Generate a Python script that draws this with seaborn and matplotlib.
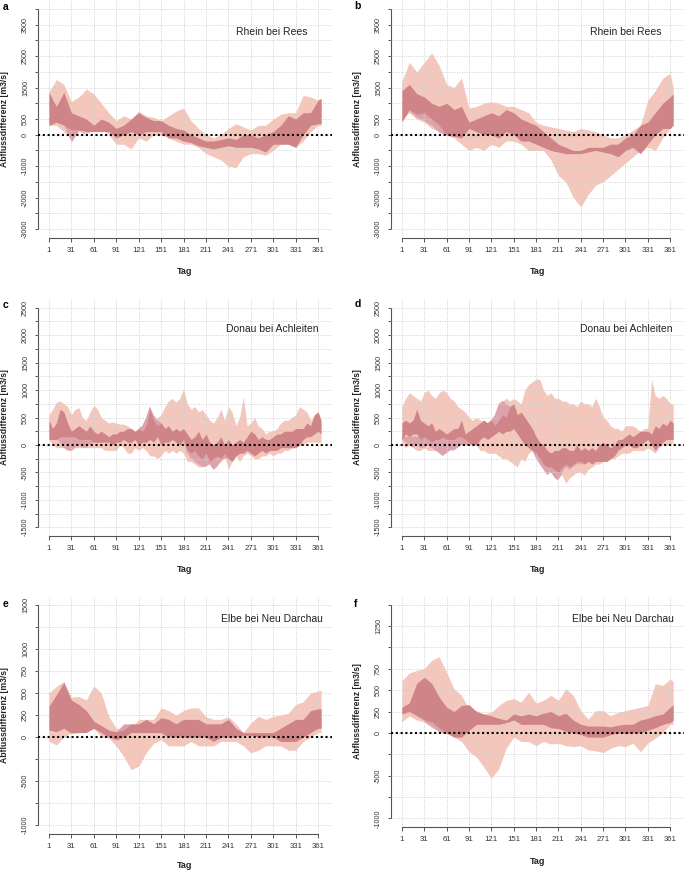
import numpy as np
import matplotlib
matplotlib.use("Agg")
import matplotlib.pyplot as plt
import seaborn as sns

N = np.nan

# ---------------- data ----------------
DAYS10 = list(range(1, 362, 10)) + [365]
DAYS5 = list(range(1, 362, 5)) + [365]
XTICKS = [1, 31, 61, 91, 121, 151, 181, 211, 241, 271, 301, 331, 361]

TITLES = ["Rhein bei Rees", "Rhein bei Rees", "Donau bei Achleiten",
          "Donau bei Achleiten", "Elbe bei Neu Darchau", "Elbe bei Neu Darchau"]
LETTERS = ["a", "b", "c", "d", "e", "f"]

# Panel a
A_LIGHT_HI = [1350, 1750, 1600, 1050, 1200, 1450, 1300, 1000, 700, 450,
              600, 500, 750, 600, 550, 450, 600, 750, 850, 450,
              200, 0, -100, 0, 200, 350, 250, 150, 300, 300,
              500, 650, 700, 700, 1250, 1200, 1100, 1150]
A_LIGHT_LO = [300, 300, 100, -100, 100, 0, 200, 200, 0, -300,
              -300, -450, -100, -200, 0, 0, -100, -200, -300, -300,
              -400, -600, -700, -800, -1000, -1050, -700, -600, -600, -650,
              -500, -300, -300, -400, -200, 100, 300, 300]
A_DARK_HI = [1350, 900, 1350, 700, 600, 500, 300, 500, 400, 200,
             300, 500, 700, 550, 450, 450, 300, 200, 150, 0,
             -100, -200, -200, -150, -100, -150, 0, 0, -100, 0,
             100, 300, 600, 500, 700, 700, 1100, 1150]
A_DARK_LO = [300, 400, 300, 150, 150, 100, 100, 100, 100, -100,
             0, 100, 0, 100, 100, 100, -100, -100, -200, -250,
             -350, -400, -450, -400, -350, -400, -400, -400, -450, -550,
             -300, -300, -300, -400, 0, 300, 350, 350]
A_MAUVE_HI = [N, N, 300, 150, 150] + [N] * 33
A_MAUVE_LO = [N, N, 300, -230, 150] + [N] * 33

# Panel b
B_LIGHT_HI = [1700, 2300, 2000, 2300, 2600, 2200, 1600, 1500, 1800, 850,
              900, 1000, 1050, 1000, 900, 900, 800, 700, 400, 300,
              250, 200, 150, 100, 200, 150, 100, 0, -100, -100,
              0, 150, 300, 1100, 1400, 1800, 1950, 1500]
B_LIGHT_LO = [500, 700, 500, 400, 200, 100, 0, -100, -300, -500,
              -400, -500, -300, -400, -200, -200, -300, -500, -500, -500,
              -800, -1300, -1500, -2000, -2300, -1900, -1600, -1500, -1300, -1100,
              -900, -700, -500, -400, -500, -100, 200, 300]
B_DARK_HI = [1400, 1600, 1300, 1200, 1000, 900, 1000, 800, 900, 400,
             500, 600, 700, 600, 800, 700, 500, 400, 300, 100,
             -100, -300, -400, -500, -500, -400, -400, -400, -300, -300,
             -100, 0, 300, 400, 700, 1000, 1200, 1300]
B_DARK_LO = [400, 800, 650, 700, 500, 300, 0, -50, -100, 200,
             100, 0, 0, -100, 100, 0, -200, -200, -300, -400,
             -500, -550, -600, -600, -600, -550, -500, -550, -600, -700,
             -500, -400, -600, -300, 0, 200, 200, 300]
B_MAUVE_HI = [N, 800, 750, 750, 550, 300, 50, -20] + [N] * 30
B_MAUVE_LO = [N, 750, 550, 450, 300, 80, -20, -50] + [N] * 30

# Panel c
C_LIGHT_HI = [550, 650, 780, 800, 750, 700, 550, 650, 680, 500,
              450, 600, 720, 650, 500, 450, 400, 420, 400, 380,
              380, 350, 300, 250, 150, 300, 350, 400, 450, 500,
              550, 700, 800, 850, 780, 850, 1020, 750, 650, 700,
              600, 650, 550, 450, 400, 500, 650, 450, 700, 600,
              350, 500, 880, 350, 400, 500, 350, 300, 200, 250,
              250, 300, 400, 450, 450, 500, 550, 700, 650, 600,
              450, 550, 600, 200]
C_LIGHT_LO = [100, 0, -50, -50, -50, -100, -100, -50, -50, -50,
              -50, -50, -50, -50, -50, -100, -100, -100, -100, 0,
              -50, -150, -150, -50, -100, -50, -100, -200, -200, -250,
              -200, -100, -150, -100, -150, -100, -150, -300, -300, -350,
              -400, -400, -350, -350, -450, -350, -300, -200, -450, -300,
              -200, -300, -200, -150, -200, -250, -250, -200, -200, -150,
              -200, -150, -150, -100, -100, -50, -50, 0, 0, 50,
              50, 50, 50, 50]
C_DARK_HI = [450, 300, 400, 650, 600, 400, 250, 300, 350, 300,
             250, 350, 250, 200, 250, 200, 150, 200, 200, 250,
             250, 300, 300, 250, 300, 250, 350, 650, 450, 350,
             400, 300, 350, 250, 300, 250, 300, 200, 100, 150,
             250, 100, 200, 50, 0, 50, 150, 0, 100, 0,
             50, 100, 50, 150, 250, 200, 100, 150, 100, 100,
             150, 200, 200, 250, 250, 250, 300, 300, 300, 400,
             350, 550, 600, 450]
C_DARK_LO = [100, 100, 100, 150, 150, 150, 150, 150, 100, 100,
             100, 100, 50, 50, 50, 50, 50, 0, 50, 50,
             100, 50, 50, 100, 0, 50, 50, 100, 50, 150,
             0, 50, 50, 100, 50, 0, 100, -100, -150, -100,
             -200, -250, -150, -300, -250, -200, -250, -150, -250, -300,
             -200, -150, -150, -100, -150, -200, -150, -100, -150, -100,
             -100, -100, -50, -50, -50, -50, -50, 0, 100, 150,
             150, 200, 250, 200]
C_MAUVE_HI = ([N, N, 150, 200, 200, 200, 200, 200, 150, 150,
               150, 150, 100, N, N, N, N, N, N, N,
               N, N, N, N, 300, 350, 500, 700, 550, 450,
               400, 300, N, N, N, N, 100, 0, 0, 0,
               0, 0, 0, 0, 0, 0, 0, 0, 0, 0,
               0] + [N] * 23)
C_MAUVE_LO = ([N, N, 100, 50, -50, -100, -100, -50, 0, -50,
               -50, 0, 50, N, N, N, N, N, N, N,
               N, N, N, N, 100, 100, 150, 150, 150, 150,
               150, 150, N, N, N, N, 50, -150, -250, -300,
               -350, -400, -400, -350, -450, -400, -300, -250, -250, -300,
               -200] + [N] * 23)

# Panel d
D_LIGHT_HI = [700, 850, 950, 900, 850, 800, 950, 1000, 900, 850,
              950, 1000, 950, 850, 800, 700, 650, 600, 500, 450,
              500, 450, 450, 400, 450, 500, 600, 800, 850, 800,
              850, 800, 750, 1000, 1100, 1150, 1200, 1200, 1000, 900,
              950, 850, 850, 800, 800, 750, 750, 700, 800, 750,
              750, 700, 850, 700, 500, 450, 350, 300, 300, 250,
              350, 350, 350, 300, 250, 300, 300, 1200, 900, 850,
              900, 850, 750, 750]
D_LIGHT_LO = [0, -50, 0, -50, -100, -100, -50, -100, -100, -100,
              -100, -50, 0, 0, 0, 0, 0, 0, 0, 0,
              0, -100, -100, -150, -150, -150, -200, -250, -250, -300,
              -350, -400, -250, -300, -150, -100, -200, -200, -300, -350,
              -450, -500, -600, -550, -700, -600, -550, -500, -500, -550,
              -450, -400, -350, -350, -300, -300, -250, -250, -200, -150,
              -150, -150, -100, -100, -100, -100, -50, -100, -150, -50,
              0, 0, 0, 50]
D_DARK_HI = [400, 450, 400, 450, 650, 450, 400, 350, 400, 250,
             300, 250, 200, 250, 300, 300, 450, 200, 250, 300,
             350, 400, 450, 400, 450, 350, 450, 550, 500, 700,
             750, 550, 600, 500, 400, 300, 150, 50, 0, -100,
             -150, -100, -100, -50, -50, -100, -100, 0, -100, -50,
             -100, -50, -100, 0, 50, 0, -50, 0, 100, 100,
             150, 200, 150, 200, 250, 250, 250, 200, 350, 300,
             400, 350, 450, 400]
D_DARK_LO = [100, 200, 150, 200, 200, 100, 150, 100, 50, 100,
             100, 150, 100, 100, 100, 150, 150, 100, 50, 0,
             0, 100, 150, 100, 150, 200, 250, 200, 250, 250,
             300, 200, 100, 0, -50, -100, -150, -250, -350, -400,
             -400, -450, -500, -400, -350, -400, -350, -300, -300, -350,
             -300, -350, -300, -300, -300, -300, -250, -200, -100, -50,
             0, 0, -50, -50, 0, 50, 100, 0, -100, 0,
             50, 100, 100, 100]
D_MAUVE_HI = ([150, 150, 150, 150, 150, 150, 150, 150, 150, 150,
               150, 150, 150, 150, 150, 150, 150, 150, 150, 50,
               0, N, N, 400, 450, 550, 750, 800, 750, 700,
               650, N, N, N, 0, -50, -100, -150, -150, -150,
               -150, -150, -150, -150, -150, -150, -150, -150, -150, -150,
               -150] + [N] * 23)
D_MAUVE_LO = ([100, 50, 0, -50, 0, -50, -50, 0, -50, -100,
               -150, -200, -150, -100, -100, -50, 0, 0, 0, 0,
               0, N, N, 100, 150, 200, 250, 200, 250, 250,
               300, N, N, N, -50, -100, -250, -350, -450, -550,
               -500, -600, -650, -500, -400, -450, -400, -350, -350, -350,
               -300] + [N] * 23)

# Panel e
E_LIGHT_HI = [500, 575, 630, 450, 460, 420, 580, 500, 235, 100,
              100, 100, 200, 200, 200, 330, 300, 250, 300, 330,
              330, 230, 200, 200, 230, 150, 50, 160, 235, 200,
              235, 250, 270, 370, 400, 500, 520, 530]
E_LIGHT_LO = [-50, -90, 0, 50, 50, 100, 100, 0, -10, -100,
              -220, -370, -330, -180, -70, -30, -100, -100, -100, -50,
              -100, -100, -100, -50, -50, -50, -100, -180, -150, -100,
              -100, -100, -150, -150, -50, 0, 50, 50]
E_DARK_HI = [350, 480, 620, 420, 370, 300, 180, 130, 80, 60,
             80, 150, 150, 200, 150, 220, 200, 150, 200, 200,
             200, 150, 150, 150, 200, 100, 50, 50, 50, 50,
             50, 100, 150, 200, 200, 300, 320, 320]
E_DARK_LO = [80, 60, 100, 45, 50, 50, 100, 50, 0, -30,
             0, 50, 50, 50, 50, 50, 0, 0, 0, 0,
             0, 0, -50, 0, 0, 0, 20, 20, 0, 0,
             0, -50, -50, -50, 0, 50, 100, 100]
E_MAUVE_HI = [N] * 9 + [60, 150, 150] + [N] * 26
E_MAUVE_LO = [N] * 9 + [0, 0, 80] + [N] * 26

# Panel f
F_LIGHT_HI = [610, 700, 730, 750, 850, 890, 710, 515, 440, 280,
              260, 220, 240, 320, 380, 400, 360, 475, 350, 380,
              440, 380, 515, 440, 260, 160, 260, 260, 200, 240,
              260, 280, 300, 320, 575, 555, 630, 600]
F_LIGHT_LO = [130, 200, 150, 130, 60, 30, 0, -50, -100, -220,
              -280, -400, -530, -420, -180, -50, -100, -100, -150, -100,
              -130, -120, -150, -160, -150, -200, -210, -230, -180, -150,
              -160, -120, -220, -120, -60, 0, 100, 100]
F_DARK_HI = [300, 350, 580, 650, 580, 420, 300, 250, 320, 330,
             250, 220, 200, 170, 150, 220, 200, 220, 200, 230,
             250, 200, 230, 150, 100, 80, 80, 80, 70, 90,
             100, 100, 150, 170, 200, 220, 300, 330]
F_DARK_LO = [220, 250, 200, 150, 130, 60, 0, -50, -50, 30,
             100, 100, 100, 100, 120, 150, 100, 100, 100, 100,
             60, 50, 20, 0, -20, -50, -50, -50, -20, 0,
             -10, 0, 0, 30, 60, 100, 120, 150]
F_MAUVE_HI = [N, N, N, 150, 150, 150, 50] + [N] * 31
F_MAUVE_LO = [N, N, N, 130, 80, 10, -10] + [N] * 31

# y ticks / labels per panel
YT_AB = list(range(-3000, 4001, 500))
YL_AB = ["-3000", "", "-2000", "", "-1000", "", "0", "500", "", "1500", "",
         "2500", "", "3500", ""]
YT_CD = list(range(-1500, 2501, 250))
YL_CD = ["-1500", "", "-1000", "", "-500", "", "0", "", "500", "", "1000", "",
         "1500", "", "2000", "", "2500"]
YT_EF = list(range(-1000, 1501, 250))
YL_E = ["-1000", "", "-500", "", "0", "250", "500", "750", "1000", "", "1500"]
YL_F = ["-1000", "", "-500", "", "0", "250", "500", "750", "", "1250", ""]

PANELS = [
    (DAYS10, A_LIGHT_LO, A_LIGHT_HI, A_MAUVE_LO, A_MAUVE_HI, A_DARK_LO, A_DARK_HI, YT_AB, YL_AB),
    (DAYS10, B_LIGHT_LO, B_LIGHT_HI, B_MAUVE_LO, B_MAUVE_HI, B_DARK_LO, B_DARK_HI, YT_AB, YL_AB),
    (DAYS5, C_LIGHT_LO, C_LIGHT_HI, C_MAUVE_LO, C_MAUVE_HI, C_DARK_LO, C_DARK_HI, YT_CD, YL_CD),
    (DAYS5, D_LIGHT_LO, D_LIGHT_HI, D_MAUVE_LO, D_MAUVE_HI, D_DARK_LO, D_DARK_HI, YT_CD, YL_CD),
    (DAYS10, E_LIGHT_LO, E_LIGHT_HI, E_MAUVE_LO, E_MAUVE_HI, E_DARK_LO, E_DARK_HI, YT_EF, YL_E),
    (DAYS10, F_LIGHT_LO, F_LIGHT_HI, F_MAUVE_LO, F_MAUVE_HI, F_DARK_LO, F_DARK_HI, YT_EF, YL_F),
]

# ---------------- style ----------------
sns.set_theme(style="white")
plt.rcParams["font.family"] = ["Liberation Sans", "DejaVu Sans"]

C_LIGHT = "#F3C7BC"
C_MAUVE = "#DCA3AC"
C_DARK = "#CF8487"
C_GRID = "#CFCFCF"
C_AXIS = "#555555"
C_TEXT = "#333333"

W, H = 685, 874
fig = plt.figure(figsize=(W / 100, H / 100), dpi=100)

# layout in pixels: (left, right, top, bottom)
BOXES = [(38, 332, 0, 238), (391, 684, 0, 238),
         (38, 332, 299, 536), (391, 684, 299, 536),
         (38, 332, 596, 834), (391, 684, 596, 827)]
TITLE_POS = [(308, 32), (661, 32), (318, 329), (672, 329), (323, 619), (674, 619)]
LETTER_POS = [(3, 7), (354, 6), (3, 305), (355, 304), (3, 604), (354, 604)]
TAG_Y = [272, 272, 569, 569, 866, 861]
YLAB_X = [5, 358, 5, 358, 5, 358]

for i, (days, llo, lhi, mlo, mhi, dlo, dhi, yt, yl) in enumerate(PANELS):
    l, r, t, b = BOXES[i]
    ax = fig.add_axes([l / W, 1 - b / H, (r - l) / W, (b - t) / H])
    days = np.asarray(days, float)
    ax.fill_between(days, np.asarray(llo, float), np.asarray(lhi, float),
                    color=C_LIGHT, lw=0, zorder=1)
    ax.fill_between(days, np.asarray(mlo, float), np.asarray(mhi, float),
                    color=C_MAUVE, lw=0, zorder=2)
    ax.fill_between(days, np.asarray(dlo, float), np.asarray(dhi, float),
                    color=C_DARK, lw=0, zorder=3)

    ymin, ymax = yt[0], yt[-1]
    pad = 0.04 * (ymax - ymin)
    ax.set_ylim(ymin - pad, ymax + pad)
    ax.set_xlim(1 - 0.04 * 364, 365 + 0.04 * 364)

    ax.set_xticks(XTICKS)
    ax.set_xticklabels([str(v) for v in XTICKS])
    ax.set_yticks(yt)
    ax.set_yticklabels(yl)

    ax.grid(True, linestyle=(0, (1, 1.5)), color=C_GRID, lw=0.7, zorder=4)
    ax.set_axisbelow(False)
    ax.axhline(0, color="black", lw=1.5, linestyle=(0, (1, 1.3)), zorder=6)

    sns.despine(ax=ax)
    ax.spines["left"].set_bounds(ymin, ymax)
    ax.spines["bottom"].set_bounds(1, 361)
    for s in ("left", "bottom"):
        ax.spines[s].set_color(C_AXIS)
        ax.spines[s].set_linewidth(0.8)

    ax.tick_params(axis="x", direction="out", length=3.0, width=0.7,
                   color=C_AXIS, labelsize=5.6, labelcolor=C_TEXT, pad=3.5,
                   bottom=True)
    ax.tick_params(axis="y", direction="out", length=2.4, width=0.7,
                   color=C_AXIS, labelsize=5.2, labelcolor=C_TEXT, pad=4,
                   left=True)
    for lab in ax.get_yticklabels():
        lab.set_rotation(90)
        lab.set_va("center")

    ax.set_xlabel("Tag", fontsize=6.5, fontweight="bold", color="#222222", va="center")
    ax.xaxis.set_label_coords(0.5, (b - TAG_Y[i]) / (b - t))
    ax.set_ylabel("Abflussdifferenz [m3/s]", fontsize=6.2, fontweight="bold",
                  color="#222222", va="center")
    ax.yaxis.set_label_coords((YLAB_X[i] - l) / (r - l), 0.5)

    tx, ty = TITLE_POS[i]
    ax.text((tx - l) / (r - l), 1 - (ty - t) / (b - t), TITLES[i],
            transform=ax.transAxes, ha="right", va="center",
            fontsize=7.5, color="#222222", zorder=7)

    lx, ly = LETTER_POS[i]
    fig.text(lx / W, 1 - ly / H, LETTERS[i], ha="left", va="center",
             fontsize=7.5, fontweight="bold", color="black")

fig.savefig("out.png", dpi=100)
